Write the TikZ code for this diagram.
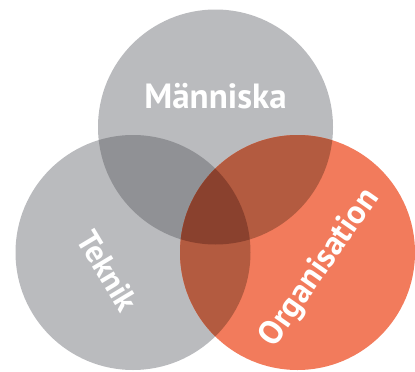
\documentclass[tikz,border=0pt]{standalone}
\usepackage{fontspec}
\setmainfont{PT Sans}
\definecolor{cgray}{HTML}{BABBBE}
\definecolor{corange}{HTML}{F27B5C}
\definecolor{cgg}{HTML}{909195}
\definecolor{cgo}{HTML}{B35B40}
\definecolor{cggo}{HTML}{8A412E}
\begin{document}
\begin{tikzpicture}[x=1pt,y=1pt,
  lbl/.style={text=white,font=\bfseries\fontsize{32}{32}\selectfont,inner sep=0pt}]
\useasboundingbox (0,0) rectangle (415,-372);
\def\r{117.5}
\coordinate (T) at (215.5,-127);
\coordinate (L) at (133,-252.5);
\coordinate (R) at (297.5,-252.5);
\fill[cgray] (T) circle (\r);
\fill[cgray] (L) circle (\r);
\fill[corange] (R) circle (\r);
\begin{scope}
  \clip (T) circle (\r);
  \fill[cgg] (L) circle (\r);
  \fill[cgo] (R) circle (\r);
\end{scope}
\begin{scope}
  \clip (L) circle (\r);
  \clip (R) circle (\r);
  \fill[cgo] (R) circle (\r);
  \clip (T) circle (\r);
  \fill[cggo] (R) circle (\r);
\end{scope}
\node[lbl,font=\bfseries\fontsize{35}{35}\selectfont] (m) at (215.5,-96) {Människa};
\node[lbl,rotate=-59] (t) at (108,-271) {Teknik};
\node[lbl,rotate=55,font=\bfseries\fontsize{33.5}{33.5}\selectfont] (o) at (320,-268) {Organisation};
\end{tikzpicture}
\end{document}
